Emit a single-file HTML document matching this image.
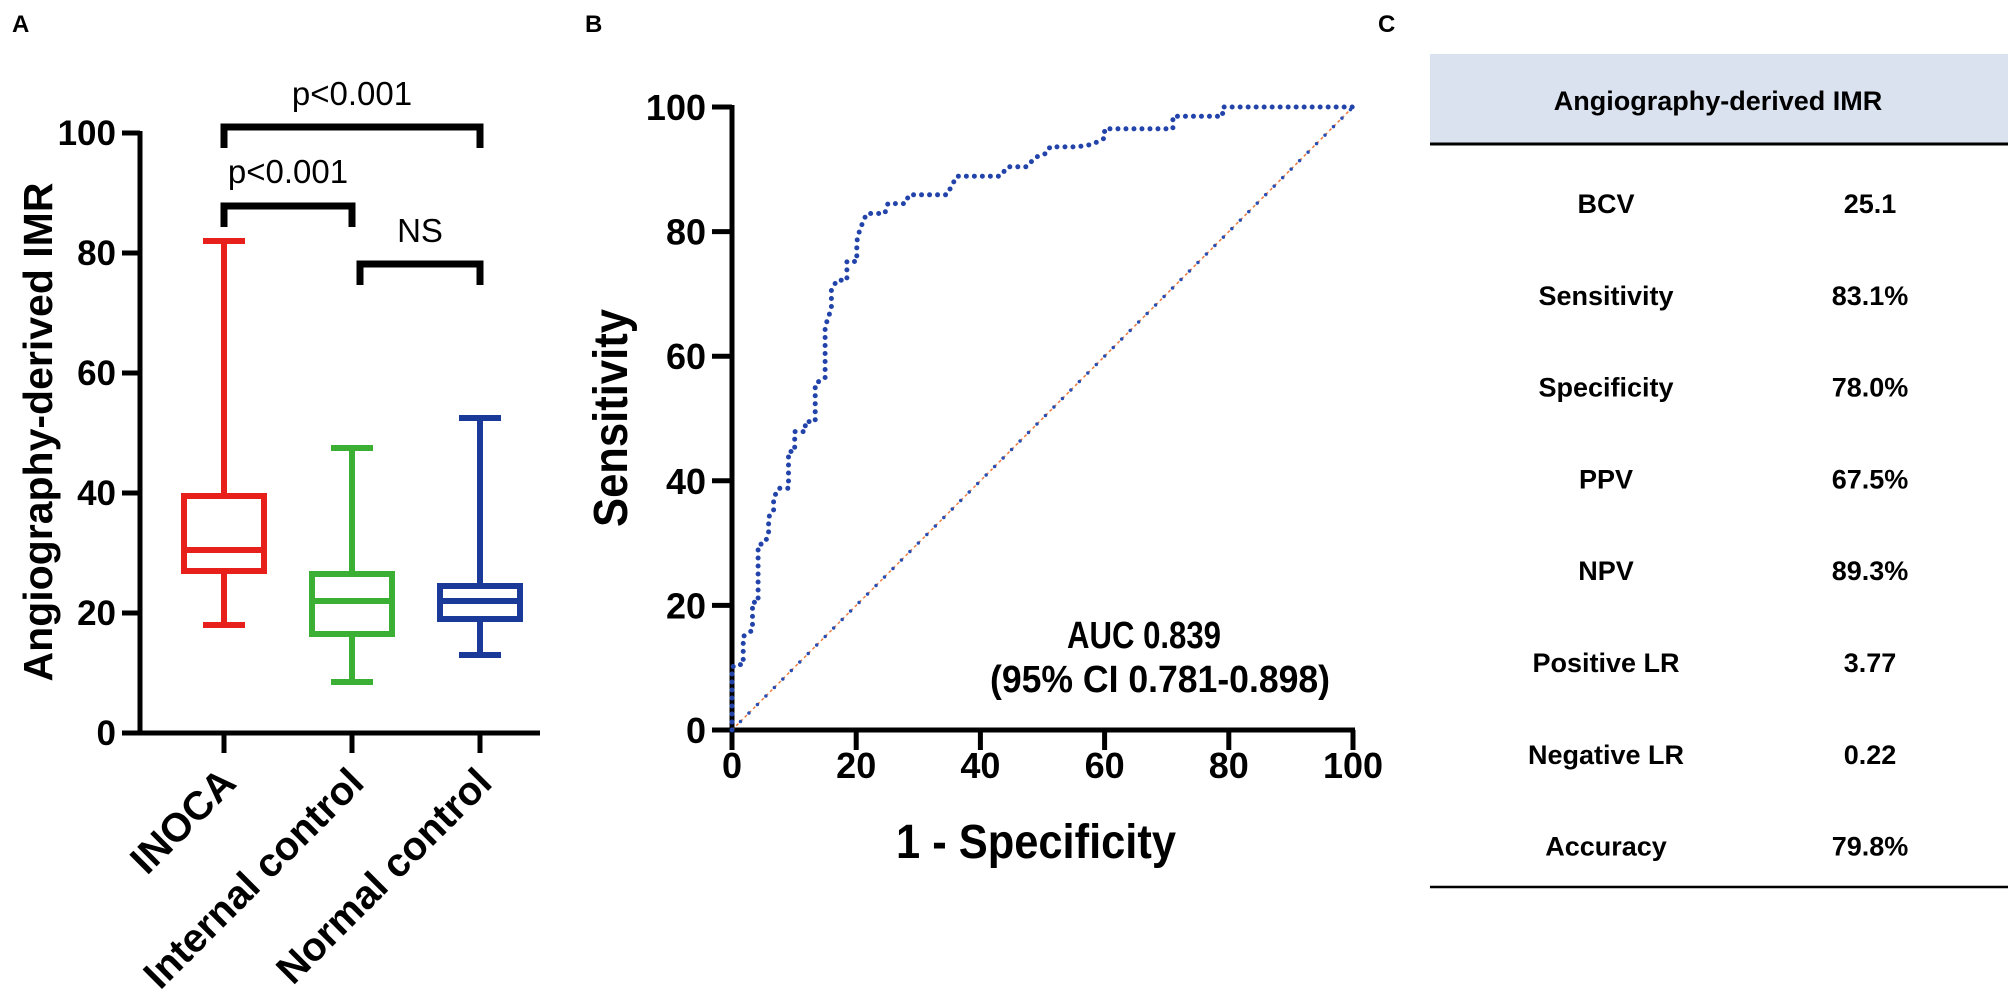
<!DOCTYPE html>
<html><head><meta charset="utf-8"><style>
html,body{margin:0;padding:0;background:#fff;}
svg{display:block;font-family:"Liberation Sans",Arial,sans-serif;}
</style></head><body>
<svg id="fig" width="2008" height="1006" viewBox="0 0 2008 1006" xmlns="http://www.w3.org/2000/svg">
<rect width="2008" height="1006" fill="#fff"/>
<text x="12" y="32" font-size="24" font-weight="bold">A</text>
<text x="585" y="32" font-size="24" font-weight="bold">B</text>
<text x="1378" y="32" font-size="24" font-weight="bold">C</text>
<g id="panelA"></g>
<g id="panelB"></g>
<g id="panelC"></g>
</svg>
<script>
// ---------- Panel A data ----------
const groups = ["INOCA", "Internal control", "Normal control"];
const groupColors = ["#e8201c", "#3cb034", "#1a3a9a"];
const whiskerMax = [82, 47.5, 52.5];
const q3Values = [39.5, 26.5, 24.5];
const medianValues = [30.5, 22, 22];
const q1Values = [27, 16.5, 19];
const whiskerMin = [18, 8.5, 13];
const yTicksA = [0, 20, 40, 60, 80, 100];
// ---------- Panel B data ----------
const rocFpr = [0,0,0.5,1.8,1.8,2.5,3.3,3.3,4.2,4.2,5.3,5.9,5.9,6.7,6.7,7.5,9.1,9.1,10.1,10.1,11.8,11.8,13.4,13.4,15,15,16,16,16.9,18.5,18.5,20.1,20.1,20.4,21.1,21.7,24.6,25.1,27.9,28.5,34.6,36.2,43.2,44.4,47.5,48.8,50.7,51.2,55.5,58,60,60,71,71,79,79,100];
const rocTpr = [0,10,10.5,10.5,15,15.5,16,20.5,20.5,29.7,30,31.5,34.2,35,37.2,38.8,38.8,44.7,44.7,47.9,47.9,49.5,49.5,55.6,56.5,64.7,67.7,70.6,72.2,72.2,75.2,75.2,78.4,79.7,81.6,82.9,82.9,84.5,84.5,85.9,85.9,88.9,88.9,90.4,90.4,91.9,92.6,93.6,93.6,94,95,96.5,96.5,98.5,98.5,100,100];
const xTicksB = [0, 20, 40, 60, 80, 100];
const yTicksB = [0, 20, 40, 60, 80, 100];
// ---------- Panel C data ----------
const tableLabels = ["BCV","Sensitivity","Specificity","PPV","NPV","Positive LR","Negative LR","Accuracy"];
const tableValues = ["25.1","83.1%","78.0%","67.5%","89.3%","3.77","0.22","79.8%"];

const NS = "http://www.w3.org/2000/svg";
function mk(parent, tag, attrs, text){
  const e = document.createElementNS(NS, tag);
  for (const k in attrs) e.setAttribute(k, attrs[k]);
  if (text !== undefined) e.textContent = text;
  parent.appendChild(e);
  return e;
}

// ===== Panel A =====
(function(){
  const g = document.getElementById('panelA');
  const ax0 = 140, y0 = 733, y100 = 133;
  const yA = v => y0 - (y0 - y100) * v / 100;
  const xA = i => 224 + i * 128;
  let e = mk(g,'path',{d:`M${ax0} ${y100-2} V${y0} H${xA(2)+60}`,stroke:'#000','stroke-width':5,fill:'none'});
   
  yTicksA.forEach(t=>{
    const l = mk(g,'line',{x1:122,x2:ax0,y1:yA(t),y2:yA(t),stroke:'#000','stroke-width':5});
     
    const tx = mk(g,'text',{x:116,y:yA(t)+12,'text-anchor':'end','font-size':35,'font-weight':'bold'},String(t));
     
  });
  const yt = mk(g,'text',{x:0,y:0,transform:'translate(52,432) rotate(-90)','text-anchor':'middle','font-size':41,'font-weight':'bold'},'Angiography-derived IMR');
   
  groups.forEach((name,i)=>{
    const cx = xA(i), c = groupColors[i];
    const tk = mk(g,'line',{x1:cx,x2:cx,y1:y0,y2:y0+20,stroke:'#000','stroke-width':5});
     
    const lb = mk(g,'text',{x:0,y:0,transform:`translate(${cx+14},${y0+52}) rotate(-45)`,'text-anchor':'end','font-size':40,'font-weight':'bold'},name);
     
    const bg = mk(g,'g',{});
     
    const sw = 6, hw = 40, cw = 21;
    mk(bg,'line',{x1:cx,x2:cx,y1:yA(whiskerMax[i]),y2:yA(q3Values[i]),stroke:c,'stroke-width':sw});
    mk(bg,'line',{x1:cx,x2:cx,y1:yA(q1Values[i]),y2:yA(whiskerMin[i]),stroke:c,'stroke-width':sw});
    mk(bg,'line',{x1:cx-cw,x2:cx+cw,y1:yA(whiskerMax[i]),y2:yA(whiskerMax[i]),stroke:c,'stroke-width':sw});
    mk(bg,'line',{x1:cx-cw,x2:cx+cw,y1:yA(whiskerMin[i]),y2:yA(whiskerMin[i]),stroke:c,'stroke-width':sw});
    mk(bg,'rect',{x:cx-hw,y:yA(q3Values[i]),width:2*hw,height:yA(q1Values[i])-yA(q3Values[i]),fill:'none',stroke:c,'stroke-width':sw});
    mk(bg,'line',{x1:cx-hw,x2:cx+hw,y1:yA(medianValues[i]),y2:yA(medianValues[i]),stroke:c,'stroke-width':sw});
  });
  function bracket(xa,xb,yy,leg,label,ty,name){
    const bg = mk(g,'g',{});
     
    mk(bg,'path',{d:`M${xa} ${yy+leg} V${yy} H${xb} V${yy+leg}`,fill:'none',stroke:'#000','stroke-width':7});
    mk(bg,'text',{x:(xa+xb)/2,y:ty,'text-anchor':'middle','font-size':33},label);
  }
  bracket(xA(0),xA(2),127,21,'p<0.001',105,'bracket-inoca-normal');
  bracket(xA(0),xA(1),206,21,'p<0.001',183,'bracket-inoca-internal');
  bracket(xA(1)+8,xA(2),264,21,'NS',242,'bracket-internal-normal');
})();

// ===== Panel B =====
(function(){
  const g = document.getElementById('panelB');
  const x0 = 732, x100 = 1353, y0 = 730, y100 = 107;
  const xB = v => x0 + (x100 - x0) * v / 100;
  const yB = v => y0 - (y0 - y100) * v / 100;
  const ax = mk(g,'path',{d:`M${x0} ${y100-2} V${y0} H${x100+2}`,stroke:'#000','stroke-width':5,fill:'none'});
   
  yTicksB.forEach(t=>{
    const l = mk(g,'line',{x1:x0-20,x2:x0,y1:yB(t),y2:yB(t),stroke:'#000','stroke-width':5});
     
    const tx = mk(g,'text',{x:x0-26,y:yB(t)+13,'text-anchor':'end','font-size':36,'font-weight':'bold'},String(t));
     
  });
  xTicksB.forEach(t=>{
    const l = mk(g,'line',{x1:xB(t),x2:xB(t),y1:y0,y2:y0+20,stroke:'#000','stroke-width':5});
     
    const tx = mk(g,'text',{x:xB(t),y:y0+48,'text-anchor':'middle','font-size':36,'font-weight':'bold'},String(t));
     
  });
  const xt = mk(g,'text',{x:1036,y:858,'text-anchor':'middle','font-size':48,'font-weight':'bold',textLength:280,lengthAdjust:'spacingAndGlyphs'},'1 - Specificity');
   
  const yt = mk(g,'text',{x:0,y:0,transform:'translate(627,418) rotate(-90)','text-anchor':'middle','font-size':48,'font-weight':'bold',textLength:218,lengthAdjust:'spacingAndGlyphs'},'Sensitivity');
   
  const d1 = mk(g,'line',{x1:xB(0),y1:yB(0),x2:xB(100),y2:yB(100),stroke:'#f07a3a','stroke-width':1.5,'stroke-dasharray':'3 3'});
   
  const d2 = mk(g,'line',{x1:xB(0),y1:yB(0),x2:xB(100),y2:yB(100),stroke:'#2a4db0','stroke-width':3.5,'stroke-linecap':'round','stroke-dasharray':'0 12'});
   
  const pts = rocFpr.map((f,i)=>`${xB(f).toFixed(1)},${yB(rocTpr[i]).toFixed(1)}`).join(' ');
  const roc = mk(g,'polyline',{points:pts,fill:'none',stroke:'#2244aa','stroke-width':5,'stroke-linecap':'round','stroke-dasharray':'0 8'});
   
  const a1 = mk(g,'text',{x:1144,y:648,'text-anchor':'middle','font-size':38,'font-weight':'bold',textLength:154,lengthAdjust:'spacingAndGlyphs'},'AUC 0.839');
   
  const a2 = mk(g,'text',{x:1160,y:692,'text-anchor':'middle','font-size':38,'font-weight':'bold',textLength:340,lengthAdjust:'spacingAndGlyphs'},'(95% CI 0.781-0.898)');
   
})();

// ===== Panel C =====
(function(){
  const g = document.getElementById('panelC');
  const hd = mk(g,'rect',{x:1430,y:54,width:578,height:89,fill:'#dae2f0'});
   
  const ht = mk(g,'text',{x:1718,y:110,'text-anchor':'middle','font-size':27,'font-weight':'bold'},'Angiography-derived IMR');
   
  const l1 = mk(g,'line',{x1:1430,x2:2008,y1:144,y2:144,stroke:'#000','stroke-width':3});
   
  const l2 = mk(g,'line',{x1:1430,x2:2008,y1:887,y2:887,stroke:'#000','stroke-width':2.5});
   
  tableLabels.forEach((lab,i)=>{
    const y = 213 + i * 91.8;
    const t1 = mk(g,'text',{x:1606,y:y,'text-anchor':'middle','font-size':27,'font-weight':'bold'},lab);
     
    const t2 = mk(g,'text',{x:1870,y:y,'text-anchor':'middle','font-size':27,'font-weight':'bold'},tableValues[i]);
     
  });
})();
</script>
</body></html>
